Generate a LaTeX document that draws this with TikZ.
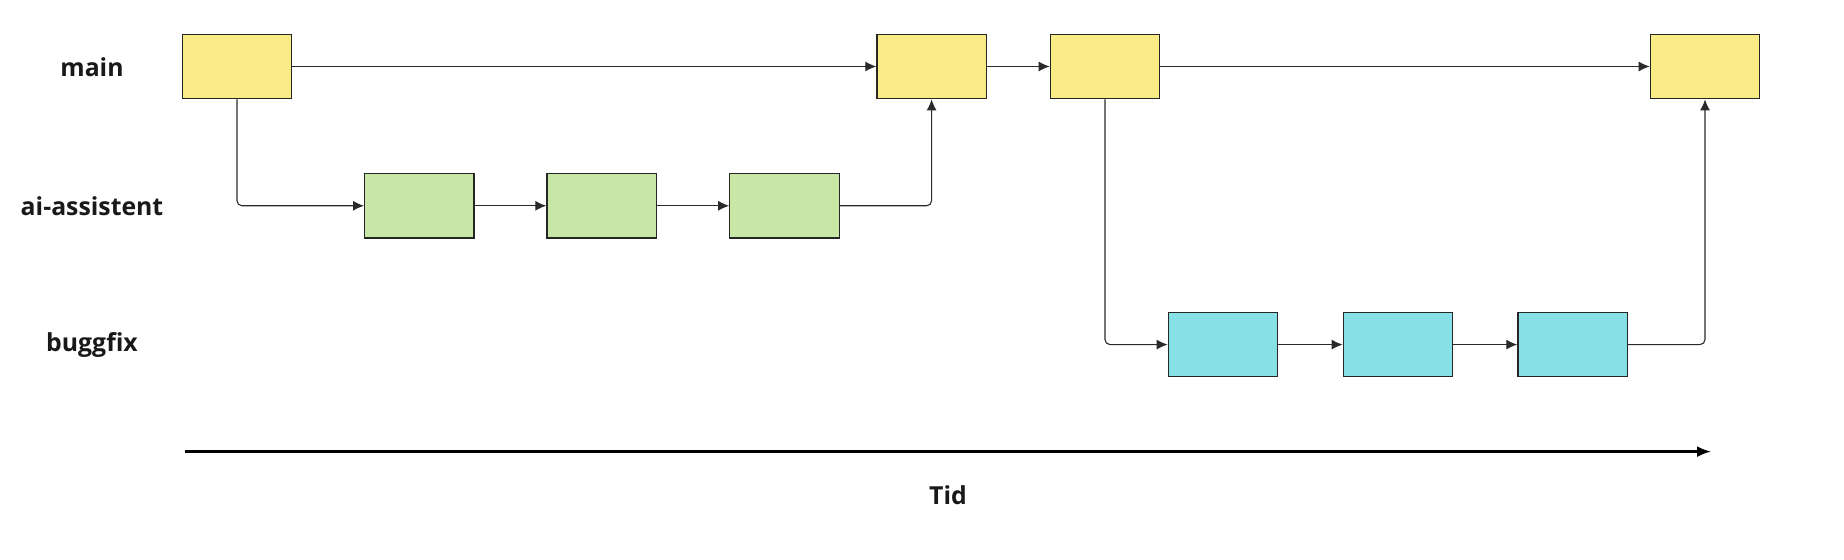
\documentclass[tikz,border=0pt]{standalone}
\usepackage{fontspec}
\setmainfont{Open Sans}
\usetikzlibrary{arrows.meta}
\definecolor{cmain}{HTML}{F9EC87}
\definecolor{cai}{HTML}{C8E6A5}
\definecolor{cbug}{HTML}{87E0E5}
\definecolor{cline}{HTML}{2A2A2A}
\begin{document}
\begin{tikzpicture}[x=0.5pt,y=-0.5pt,
  commit/.style={draw=black!85, line width=0.6pt, minimum width=54.7pt, minimum height=32.3pt, inner sep=0pt},
  mainc/.style={commit, fill=cmain},
  aic/.style={commit, fill=cai},
  bugc/.style={commit, fill=cbug},
  lbl/.style={font=\bfseries\fontsize{12.4}{14}\selectfont, text=black!90},
  conn/.style={draw=cline, line width=0.55pt, -{Latex[length=5.5pt,width=5pt]}, rounded corners=2.5pt}]
\useasboundingbox (0,0) rectangle (1844,560);
% labels
\node[lbl] (lmain) at (92,67) {main};
\node[lbl] (lai) at (92,206) {ai-assistent};
\node[lbl] (lbug) at (92,345) {buggfix};
% main commits
\node[mainc] (m1) at (237,66.5) {};
\node[mainc] (m2) at (931.6,66.5) {};
\node[mainc] (m3) at (1105,66.5) {};
\node[mainc] (m4) at (1705,66.5) {};
% ai commits
\node[aic] (a1) at (419.3,205.8) {};
\node[aic] (a2) at (601.6,205.8) {};
\node[aic] (a3) at (784.5,205.8) {};
% bug commits
\node[bugc] (b1) at (1223,344.6) {};
\node[bugc] (b2) at (1398,344.6) {};
\node[bugc] (b3) at (1572.6,344.6) {};
% connectors
\draw[conn] (m1.east) -- (m2.west);
\draw[conn] (m2.east) -- (m3.west);
\draw[conn] (m3.east) -- (m4.west);
\draw[conn] (m1.south) |- (a1.west);
\draw[conn] (a1) -- (a2);
\draw[conn] (a2) -- (a3);
\draw[conn] (a3.east) -| (m2.south);
\draw[conn] (m3.south) |- (b1.west);
\draw[conn] (b1) -- (b2);
\draw[conn] (b2) -- (b3);
\draw[conn] (b3.east) -| (m4.south);
% time axis
\coordinate (t0) at (184.6,451.6);
\coordinate (t1) at (1711,451.6);
\draw[black, line width=1.1pt, -{Latex[length=7pt,width=5.5pt]}] (t0) -- (t1);
\node[lbl] (tid) at (948,495) {Tid};
\end{tikzpicture}
\end{document}
